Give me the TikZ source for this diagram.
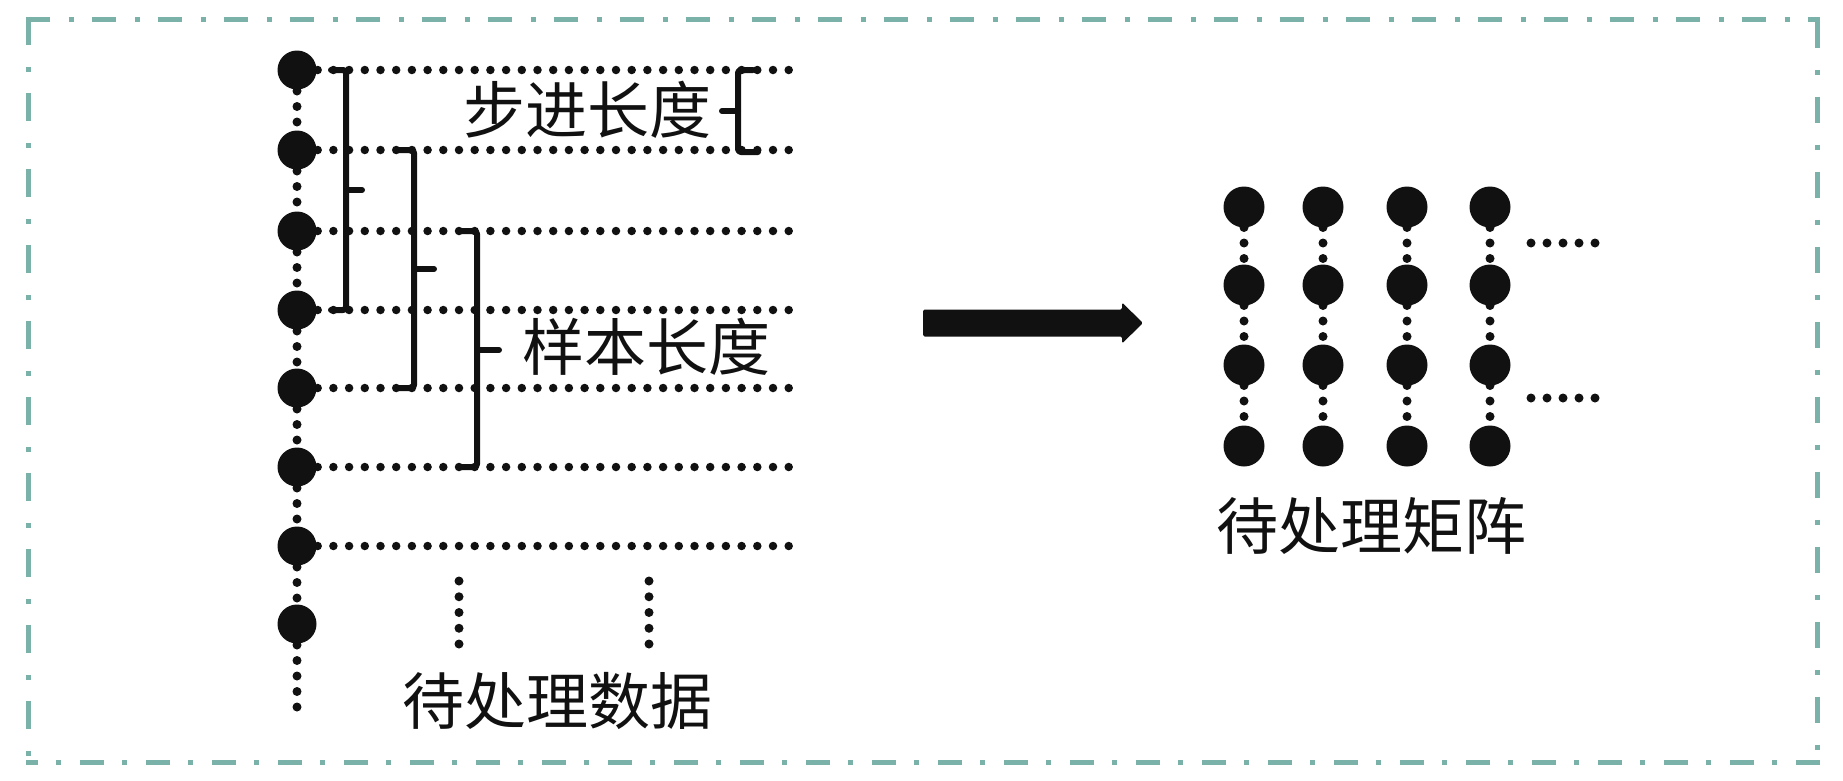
\documentclass[tikz,border=0pt]{standalone}
\usepackage{fontspec}
\newfontfamily\cjk{Noto Sans CJK SC}
\usetikzlibrary{calc}
\definecolor{frame}{RGB}{122,178,170}
\definecolor{ink}{RGB}{17,17,17}
\begin{document}
\begin{tikzpicture}[x=1pt,y=-1pt,
  bigdot/.style={circle, fill=ink, minimum size=39pt, inner sep=0pt, outer sep=0pt},
  mdot/.style={circle, fill=ink, minimum size=41pt, inner sep=0pt, outer sep=0pt},
  vdots/.style={ink, line width=9pt, line cap=round, dash pattern=on 0pt off 15.5pt, dash phase=14pt},
  hdots/.style={ink, line width=8.5pt, line cap=round, dash pattern=on 0pt off 15.7pt, dash phase=14.5pt},
  cdots/.style={ink, line width=9pt, line cap=round, dash pattern=on 0pt off 15.75pt},
  mvdots/.style={ink, line width=9pt, line cap=round, dash pattern=on 0pt off 15.5pt},
  edots/.style={ink, line width=9pt, line cap=round, dash pattern=on 0pt off 16pt},
  brace/.style={ink, line width=6pt, rounded corners=3pt, line cap=round, line join=round},
  lbl/.style={font=\cjk\fontsize{62}{70}\selectfont, inner sep=0pt, text=ink},
  frameline/.style={frame, line width=5pt}
]
\useasboundingbox (0,0) rectangle (1843,780);

% frame
\draw[frameline, dash pattern=on 24pt off 19pt on 5pt off 18pt] (25.5,19) -- (1819.5,19);
\draw[frameline, dash pattern=on 26pt off 22pt on 5pt off 22pt] (1817,21.5) -- (1817,764);
\draw[frameline, dash pattern=on 24pt off 19pt on 5pt off 18pt] (1820,762) -- (25.5,762);
\draw[frameline, dash pattern=on 28pt off 22pt on 5pt off 21pt] (28,16.5) -- (28,764);

% left column of samples
\foreach \i/\y in {0/70,1/150,2/231,3/310,4/388,5/467,6/546,7/624}
  \node[bigdot] (d\i) at (297,\y) {};
\foreach \i/\j in {0/1,1/2,2/3,3/4,4/5,5/6,6/7}
  \draw[vdots] (d\i) -- (d\j);
\coordinate (dend) at (297,712);
\draw[vdots] (d7) -- (dend);

% horizontal dotted lines
\coordinate (hx) at (792,0);
\foreach \i in {0,...,6}
  \draw[hdots] (d\i) -- (d\i -| hx);

% brackets (sample length)
\draw[brace] (331,70) -- (346,70) -- (346,310) -- (331,310);
\draw[brace] (346,190) -- (362,190);
\draw[brace] (398,150) -- (414,150) -- (414,388) -- (398,388);
\draw[brace] (414,269) -- (434,269);
\draw[brace] (459,231) -- (477,231) -- (477,467) -- (459,467);
\draw[brace] (477,350) -- (499,350);

% step brace
\draw[brace] (753,70) -- (738,70) -- (738,152) -- (758,152);
\draw[brace] (738,111) -- (722,111);

% labels
\node[lbl] (t1) at (587,110) {步进长度};
\node[lbl] (t2) at (646,347) {样本长度};
\node[lbl] (t3) at (557,701) {待处理数据};
\node[lbl] (t4) at (1371,526) {待处理矩阵};

% continuation dots under the data
\coordinate (c1a) at (459,581); \coordinate (c1b) at (459,645);
\coordinate (c2a) at (649,581); \coordinate (c2b) at (649,645);
\draw[cdots] (c1a) -- (c1b);
\draw[cdots] (c2a) -- (c2b);

% arrow
\coordinate (arrS) at (923,323);
\coordinate (arrE) at (1143,323);
\fill[ink, rounded corners=1.5pt] ($(arrS)+(0,-13.5)$) -- ($(arrE)+(-21,-13.5)$) -- ($(arrE)+(-21,-20.5)$)
  -- (arrE) -- ($(arrE)+(-21,20.5)$) -- ($(arrE)+(-21,13.5)$) -- ($(arrS)+(0,13.5)$) -- cycle;

% matrix
\foreach \c/\x in {1/1244,2/1323,3/1407,4/1490}
  \foreach \r/\y in {1/207,2/285,3/365,4/446}
    \node[mdot] (m\c\r) at (\x,\y) {};
\foreach \c in {1,...,4}
  \foreach \r/\s in {1/2,2/3,3/4}
    \draw[mvdots] (m\c\r) -- (m\c\s);

% continuation dots right of matrix
\coordinate (e1a) at (1531,243); \coordinate (e1b) at (1595.5,243);
\coordinate (e2a) at (1531,398); \coordinate (e2b) at (1595.5,398);
\draw[edots] (e1a) -- (e1b);
\draw[edots] (e2a) -- (e2b);
\end{tikzpicture}
\end{document}
